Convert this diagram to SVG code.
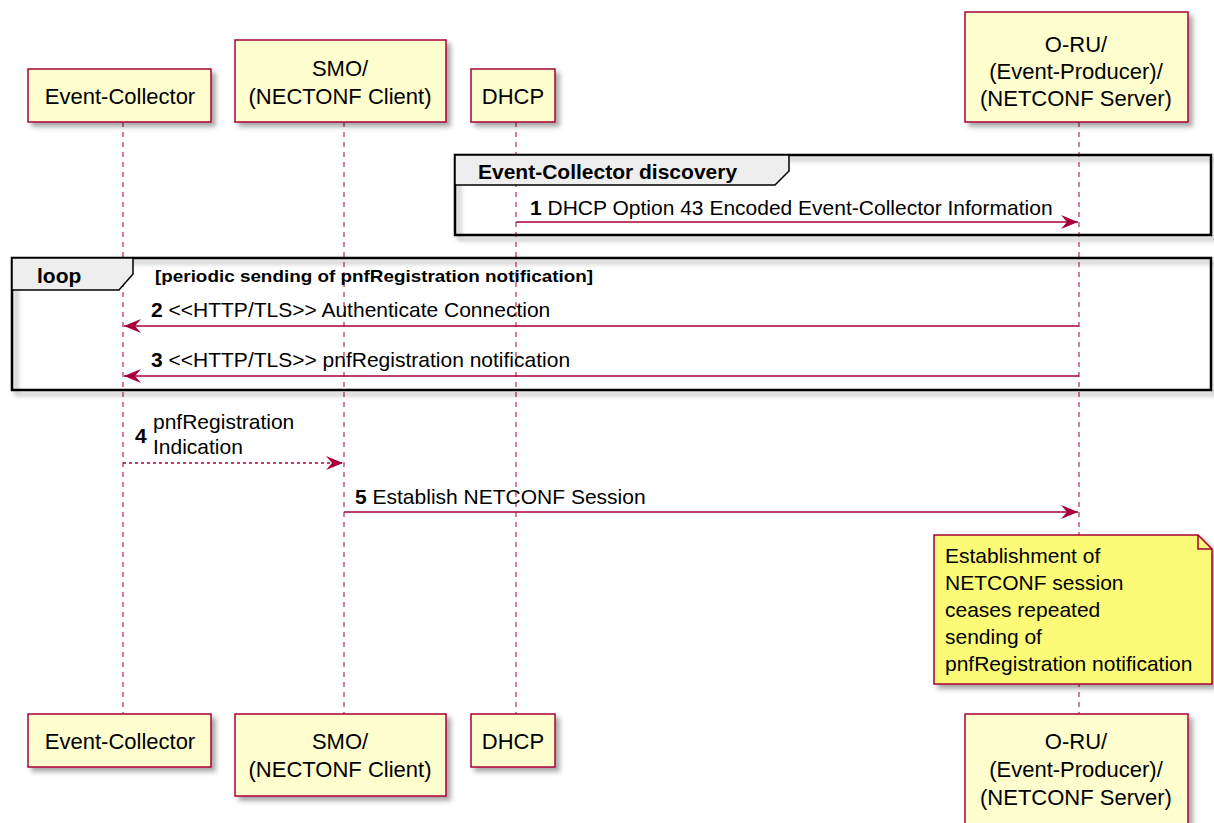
<svg xmlns="http://www.w3.org/2000/svg" width="1214" height="823" viewBox="0 0 1214 823">
<defs>
<filter id="sh" x="-10%" y="-10%" width="130%" height="140%">
<feDropShadow dx="4" dy="4" stdDeviation="2.5" flood-color="#000" flood-opacity="0.35"/>
</filter>
<marker id="ah" viewBox="0 0 17 14" refX="17" refY="7" markerWidth="17" markerHeight="14" markerUnits="userSpaceOnUse" orient="auto-start-reverse">
<polygon points="0,0 17,7 0,14 6,7" fill="#A80036"/>
</marker>
</defs>
<style>
text{font-family:"Liberation Sans",Arial,sans-serif;fill:#000}
.p rect{fill:#FEFECE;stroke:#A80036;stroke-width:1.5;filter:url(#sh)}
.p text{font-size:22px;text-anchor:middle}
.ll{stroke:#A80036;stroke-width:1;stroke-dasharray:5,5}
.m{stroke:#A80036;stroke-width:1.5;fill:none}
.lbl{font-size:21px}
.n{font-weight:bold}
.grp{fill:none;stroke:#000;stroke-width:2.5}
.tab{fill:#EEEEEE;stroke:#000;stroke-width:1.5}
.gt{font-size:21px;font-weight:bold}
</style>
<rect width="1214" height="823" fill="#fff"/>
<g id="lifelines">
<line class="ll" x1="123" y1="122" x2="123" y2="714"/>
<line class="ll" x1="344" y1="122" x2="344" y2="714"/>
<line class="ll" x1="516" y1="122" x2="516" y2="714"/>
<line class="ll" x1="1079" y1="122" x2="1079" y2="714"/>
</g>
<g id="p-ec-top" class="p"><rect x="28" y="69" width="183" height="53"/><text x="120" y="104">Event-Collector</text></g>
<g id="p-smo-top" class="p"><rect x="235" y="40" width="211" height="82"/><text x="340" y="76">SMO/</text><text x="340" y="104">(NECTONF Client)</text></g>
<g id="p-dhcp-top" class="p"><rect x="471" y="69" width="84" height="53"/><text x="513" y="104">DHCP</text></g>
<g id="p-oru-top" class="p"><rect x="965" y="12" width="223" height="110"/><text x="1076" y="52">O-RU/</text><text x="1076" y="79">(Event-Producer)/</text><text x="1076" y="106">(NETCONF Server)</text></g>
<g id="group-discovery">
<rect class="grp" x="455" y="155" width="756" height="80" filter="url(#sh)"/>
<polygon class="tab" points="455,155 789,155 789,171 775,185 455,185"/>
<text class="gt" x="478" y="179">Event-Collector discovery</text>
</g>
<g id="group-loop">
<rect class="grp" x="12" y="258" width="1199" height="132" filter="url(#sh)"/>
<polygon class="tab" points="12,258 133,258 133,274 119,290 12,290"/>
<text class="gt" x="37" y="283">loop</text>
<text x="155" y="282" font-size="17" font-weight="bold" textLength="438" lengthAdjust="spacingAndGlyphs">[periodic sending of pnfRegistration notification]</text>
</g>
<g id="connectors">
<line class="m" x1="516" y1="222" x2="1078" y2="222" marker-end="url(#ah)"/>
<line class="m" x1="1079" y1="326" x2="124" y2="326" marker-end="url(#ah)"/>
<line class="m" x1="1079" y1="376" x2="124" y2="376" marker-end="url(#ah)"/>
<line class="m" x1="123" y1="463" x2="343" y2="463" stroke-dasharray="3,3" marker-end="url(#ah)"/>
<line class="m" x1="344" y1="512" x2="1078" y2="512" marker-end="url(#ah)"/>
</g>
<g id="labels">
<text class="lbl" x="530" y="215"><tspan class="n">1</tspan> DHCP Option 43 Encoded Event-Collector Information</text>
<text class="lbl" x="151" y="317"><tspan class="n">2</tspan> &lt;&lt;HTTP/TLS&gt;&gt; Authenticate Connection</text>
<text class="lbl" x="151" y="367"><tspan class="n">3</tspan> &lt;&lt;HTTP/TLS&gt;&gt; pnfRegistration notification</text>
<text class="lbl n" x="135" y="443">4</text>
<text class="lbl" x="153" y="429">pnfRegistration</text>
<text class="lbl" x="153" y="454">Indication</text>
<text class="lbl" x="355" y="504"><tspan class="n">5</tspan> Establish NETCONF Session</text>
</g>
<g id="note">
<polygon points="934,535 1198,535 1212,549 1212,684 934,684" fill="#FBFB77" stroke="#A80036" stroke-width="1.5" filter="url(#sh)"/>
<polyline points="1198,535 1198,549 1212,549" fill="none" stroke="#A80036" stroke-width="1.5"/>
<text class="lbl" x="945" y="563">Establishment of</text>
<text class="lbl" x="945" y="590">NETCONF session</text>
<text class="lbl" x="945" y="617">ceases repeated</text>
<text class="lbl" x="945" y="644">sending of</text>
<text class="lbl" x="945" y="671">pnfRegistration notification</text>
</g>
<g id="p-ec-bot" class="p"><rect x="28" y="714" width="183" height="53"/><text x="120" y="749">Event-Collector</text></g>
<g id="p-smo-bot" class="p"><rect x="235" y="714" width="211" height="82"/><text x="340" y="749">SMO/</text><text x="340" y="777">(NECTONF Client)</text></g>
<g id="p-dhcp-bot" class="p"><rect x="471" y="714" width="84" height="53"/><text x="513" y="749">DHCP</text></g>
<g id="p-oru-bot" class="p"><rect x="965" y="714" width="223" height="112"/><text x="1076" y="749">O-RU/</text><text x="1076" y="777">(Event-Producer)/</text><text x="1076" y="805">(NETCONF Server)</text></g>
</svg>
